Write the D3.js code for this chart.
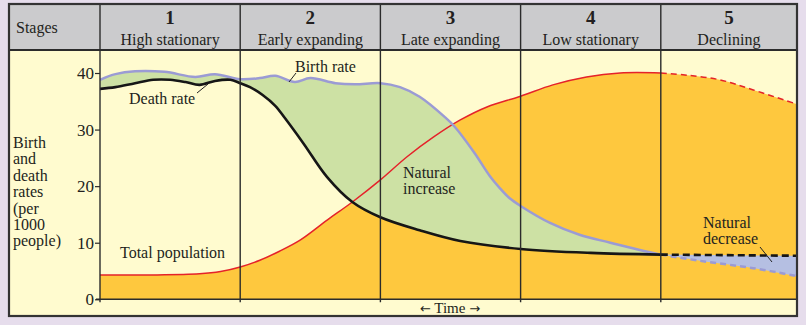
<!DOCTYPE html>
<html><head><meta charset="utf-8">
<script src="https://cdn.jsdelivr.net/npm/d3@7"></script>
<style>
html,body{margin:0;padding:0;background:#e6ddec;}
svg{display:block;}
text{font-family:"Liberation Serif","Times New Roman",serif;fill:#231f20;}
</style></head>
<body>
<svg id="chart" width="806" height="325"></svg>
<script>
// ---- data (time in stage units, values per 1000 people on the rate axis) ----
const stageNumbers = ["1","2","3","4","5"];
const stageNames = ["High stationary","Early expanding","Late expanding","Low stationary","Declining"];
const yTicks = [0,10,20,30,40];
const yLabelLines = ["Birth","and","death","rates","(per","1000","people)"];

const birthT    = [0,0.11,0.25,0.46,0.68,0.82,1.0,1.14,1.25,1.39,1.5,1.68,1.82,2.0,2.14,2.28,2.46,2.53,2.67,2.78,2.85,2.92,3.0,3.21,3.42,3.64,3.85,4.0];
const birthRate = [38.8,39.8,40.3,40.2,39.3,39.8,38.9,39.1,39.5,38.4,39.1,38.2,38.0,38.2,37.5,35.8,32.2,30.5,25.9,21.8,19.7,17.9,16.5,13.5,11.4,10.0,8.7,7.9];
const birthFutureT    = [4.0,4.28,4.66,4.97];
const birthFutureRate = [7.9,6.8,5.5,4.1];

const deathT    = [0,0.11,0.25,0.38,0.5,0.61,0.71,0.82,0.93,1.0,1.07,1.16,1.25,1.32,1.45,1.62,1.8,2.0,2.28,2.57,3.0,3.5,4.0];
const deathRate = [37.2,37.5,38.2,38.8,38.8,38.4,37.9,38.6,38.8,38.2,37.5,36.1,34.2,32.0,27.6,21.6,17.2,14.5,12.2,10.3,8.9,8.2,7.9];
const deathFutureT    = [4.0,4.97];
const deathFutureRate = [7.9,7.7];

const popT     = [0,0.36,0.71,0.86,1.0,1.14,1.28,1.43,1.62,1.8,2.0,2.19,2.38,2.57,2.76,3.0,3.23,3.47,3.71,4.0];
const popValue = [4.3,4.3,4.5,4.9,5.7,6.9,8.5,10.5,14.0,17.2,21.1,25.2,28.7,31.7,34.0,35.9,37.9,39.3,40.0,40.0];
const popFutureT     = [4.0,4.19,4.42,4.66,4.97];
const popFutureValue = [40.0,39.6,38.8,37.0,34.5];

// ---- layout ----
const svg = d3.select("#chart");
const frame = {left:9, top:4, right:797, bottom:316};
const headerBottom = 50;
const plotLeft = 100, plotRight = 797, axisY = 299.3;

const x = d3.scaleLinear().domain([0,5]).range([plotLeft, 801]);
const y = d3.scaleLinear().domain([0,40]).range([axisY, 73]);

const col = {
  cream:"#fffbcf", orange:"#fec83e", green:"#cde1a4", blue:"#b5bfe2",
  lav:"#9b9bd4", red:"#e5222a", dark:"#2b2b2b", gray:"#cbcbcd"
};

// frame background
svg.append("rect").attr("x",frame.left).attr("y",frame.top)
  .attr("width",frame.right-frame.left).attr("height",frame.bottom-frame.top)
  .attr("fill",col.cream);
svg.append("rect").attr("x",frame.left).attr("y",frame.top)
  .attr("width",frame.right-frame.left).attr("height",headerBottom-frame.top)
  .attr("fill",col.gray);

const defs = svg.append("defs");
defs.append("clipPath").attr("id","plotClip").append("rect")
  .attr("x",plotLeft).attr("y",headerBottom).attr("width",plotRight-plotLeft).attr("height",axisY-headerBottom);

const pts = (ts, vs) => ts.map((t,i)=>[t,vs[i]]);
const curve = d3.curveCatmullRom.alpha(0.5);
const line = d3.line().x(d=>x(d[0])).y(d=>y(d[1])).curve(curve);
const areaBelow = d3.area().x(d=>x(d[0])).y0(axisY).y1(d=>y(d[1])).curve(curve);
const areaAbove = d3.area().x(d=>x(d[0])).y0(headerBottom).y1(d=>y(d[1])).curve(curve);

const pop = pts(popT,popValue), popF = pts(popFutureT,popFutureValue);
const birth = pts(birthT,birthRate), birthF = pts(birthFutureT,birthFutureRate);
const death = pts(deathT,deathRate), deathF = pts(deathFutureT,deathFutureRate);

const g = svg.append("g").attr("clip-path","url(#plotClip)");

// population area
g.append("path").attr("d",areaBelow(pop)).attr("fill",col.orange);
g.append("path").attr("d",areaBelow(popF)).attr("fill",col.orange);

// natural increase: below birth, above death
defs.append("clipPath").attr("id","aboveDeath").append("path").attr("d",areaAbove(death));
g.append("g").attr("clip-path","url(#aboveDeath)")
  .append("path").attr("d",areaBelow(birth)).attr("fill",col.green);

// natural decrease: below death (future), above birth (future)
defs.append("clipPath").attr("id","aboveBirthF").append("path").attr("d",areaAbove(birthF));
g.append("g").attr("clip-path","url(#aboveBirthF)")
  .append("path").attr("d",areaBelow(deathF)).attr("fill",col.blue);

// stage dividers
const bounds = d3.range(0,5).map(i=>x(i));
svg.selectAll(".div").data(bounds).enter().append("line")
  .attr("x1",d=>d).attr("x2",d=>d).attr("y1",frame.top).attr("y2",axisY+3)
  .attr("stroke",col.dark).attr("stroke-width",1.4);

// lines
g.append("path").attr("d",line(pop)).attr("fill","none").attr("stroke",col.red).attr("stroke-width",1.5);
g.append("path").attr("d",line(popF)).attr("fill","none").attr("stroke",col.red).attr("stroke-width",1.5).attr("stroke-dasharray","6,4");
g.append("path").attr("d",line(birth)).attr("fill","none").attr("stroke",col.lav).attr("stroke-width",2.5);
g.append("path").attr("d",line(birthF)).attr("fill","none").attr("stroke",col.lav).attr("stroke-width",2.5).attr("stroke-dasharray","6,4");
g.append("path").attr("d",line(death)).attr("fill","none").attr("stroke","#161616").attr("stroke-width",2.6);
g.append("path").attr("d",line(deathF)).attr("fill","none").attr("stroke","#161616").attr("stroke-width",2.6).attr("stroke-dasharray","7,4");

// x axis baseline
svg.append("line").attr("x1",plotLeft-4).attr("x2",plotRight).attr("y1",axisY).attr("y2",axisY)
  .attr("stroke",col.dark).attr("stroke-width",1.4);

// y axis via d3.axisLeft
const yAxis = svg.append("g").attr("transform",`translate(${plotLeft},0)`)
  .call(d3.axisLeft(y).tickValues(yTicks).tickSize(5).tickPadding(1).tickFormat(d3.format("d")));
yAxis.select(".domain").remove();
yAxis.selectAll("line").attr("stroke",col.dark).attr("stroke-width",1.2);
yAxis.selectAll("text").attr("font-size",17).attr("fill","#231f20")
  .attr("font-family","Liberation Serif, serif");

// header borders and frame
svg.append("line").attr("x1",frame.left).attr("x2",frame.right).attr("y1",headerBottom).attr("y2",headerBottom)
  .attr("stroke",col.dark).attr("stroke-width",2);
svg.append("rect").attr("x",frame.left).attr("y",frame.top)
  .attr("width",frame.right-frame.left).attr("height",frame.bottom-frame.top)
  .attr("fill","none").attr("stroke","#333").attr("stroke-width",2.2);

// header text
svg.append("text").attr("x",16).attr("y",33).attr("font-size",16).text("Stages");
const centers = d3.range(0,5).map(i=>(x(i)+Math.min(x(i+1),plotRight))/2);
svg.selectAll(".num").data(stageNumbers).enter().append("text")
  .attr("x",(d,i)=>centers[i]).attr("y",24).attr("text-anchor","middle")
  .attr("font-size",19).attr("font-weight","bold").text(d=>d);
svg.selectAll(".name").data(stageNames).enter().append("text")
  .attr("x",(d,i)=>centers[i]).attr("y",45).attr("text-anchor","middle")
  .attr("font-size",16).text(d=>d);

// y label
svg.selectAll(".ylab").data(yLabelLines).enter().append("text")
  .attr("x",13).attr("y",(d,i)=>148+i*16.4).attr("font-size",16).text(d=>d);

// annotations
const ann = svg.append("g");
ann.append("text").attr("x",129).attr("y",104).attr("font-size",16).text("Death rate");
ann.append("line").attr("x1",197).attr("y1",93).attr("x2",208).attr("y2",84).attr("stroke","#222").attr("stroke-width",1);
ann.append("text").attr("x",295).attr("y",72).attr("font-size",16).text("Birth rate");
ann.append("line").attr("x1",296).attr("y1",73).attr("x2",289).attr("y2",82).attr("stroke","#222").attr("stroke-width",1);
ann.append("text").attr("x",403).attr("y",178).attr("font-size",16).text("Natural");
ann.append("text").attr("x",403).attr("y",194).attr("font-size",16).text("increase");
ann.append("text").attr("x",703).attr("y",228).attr("font-size",16).text("Natural");
ann.append("text").attr("x",703).attr("y",244).attr("font-size",16).text("decrease");
ann.append("line").attr("x1",760).attr("y1",247).attr("x2",772).attr("y2",262).attr("stroke","#222").attr("stroke-width",1);
ann.append("text").attr("x",120).attr("y",258).attr("font-size",16).text("Total population");
const tl = ann.append("text").attr("x",450).attr("y",313).attr("text-anchor","middle").attr("font-size",15);
tl.append("tspan").attr("font-family","DejaVu Sans, sans-serif").attr("font-size",13).text("\u2190");
tl.append("tspan").text(" Time ");
tl.append("tspan").attr("font-family","DejaVu Sans, sans-serif").attr("font-size",13).text("\u2192");
</script>
</body></html>
